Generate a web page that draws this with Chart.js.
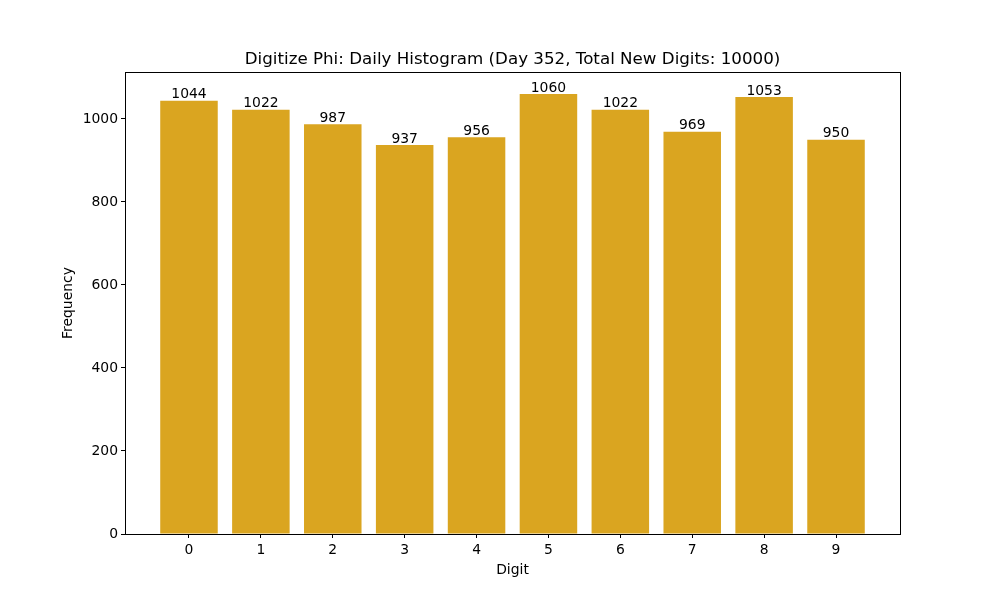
<!DOCTYPE html>
<html>
<head>
<meta charset="utf-8">
<script src="https://cdn.jsdelivr.net/npm/chart.js@4/dist/chart.umd.min.js"></script>
<style>
  html, body { margin: 0; padding: 0; background: #fff; }
  #wrap { width: 1000px; height: 600px; }
</style>
</head>
<body>
<div id="wrap"><canvas id="histChart" width="1000" height="600"></canvas></div>
<script>
const digits = [0, 1, 2, 3, 4, 5, 6, 7, 8, 9];
const counts = [1044, 1022, 987, 937, 956, 1060, 1022, 969, 1053, 950];
const yTicks = [0, 200, 400, 600, 800, 1000];
const chartTitle = 'Digitize Phi: Daily Histogram (Day 352, Total New Digits: 10000)';

const barColor = '#daa520';
const fontFamily = '"DejaVu Sans", sans-serif';

// full box around the plot area, like matplotlib spines, plus the title centred over the axes
const frameBox = {
    id: 'frameBox',
    afterDraw(chart) {
        const a = chart.chartArea;
        const ctx = chart.ctx;
        ctx.save();
        ctx.strokeStyle = '#000';
        ctx.lineWidth = 1;
        ctx.strokeRect(Math.round(a.left) + 0.5, Math.round(a.top) + 0.5,
            Math.round(a.right - a.left), Math.round(a.bottom - a.top));
        ctx.font = '16.7px ' + fontFamily;
        ctx.fillStyle = '#000';
        ctx.textAlign = 'center';
        ctx.textBaseline = 'middle';
        ctx.fillText(chartTitle, (a.left + a.right) / 2, a.top - 12);
        ctx.restore();
    }
};

// count printed above each bar
const barValues = {
    id: 'barValues',
    afterDatasetsDraw(chart) {
        const ctx = chart.ctx;
        const meta = chart.getDatasetMeta(0);
        ctx.save();
        ctx.font = '13.9px ' + fontFamily;
        ctx.fillStyle = '#000';
        ctx.textAlign = 'center';
        ctx.textBaseline = 'bottom';
        meta.data.forEach((bar, i) => {
            ctx.fillText(String(counts[i]), bar.x, bar.y + 1);
        });
        ctx.restore();
    }
};

const ctx = document.getElementById('histChart').getContext('2d');
new Chart(ctx, {
    type: 'bar',
    data: {
        datasets: [{
            data: digits.map((d, i) => ({ x: d, y: counts[i] })),
            backgroundColor: barColor,
            borderColor: barColor,
            borderWidth: 0,
            inflateAmount: 0,
            barPercentage: 0.8,
            categoryPercentage: 1.0
        }]
    },
    options: {
        responsive: false,
        animation: false,
        devicePixelRatio: 1,
        layout: { padding: { left: 56, right: 100, top: 72, bottom: 17 } },
        plugins: {
            legend: { display: false },
            tooltip: { enabled: false },
            title: { display: false }
        },
        scales: {
            x: {
                type: 'linear',
                min: -0.89,
                max: 9.89,
                offset: false,
                grid: { display: true, offset: false, drawOnChartArea: false, drawTicks: true, tickLength: 4, color: '#000' },
                border: { display: true, color: '#000', width: 1 },
                ticks: { stepSize: 1, autoSkip: false, padding: 4, color: '#000', font: { family: fontFamily, size: 13.9 } },
                title: { display: true, text: 'Digit', color: '#000', font: { family: fontFamily, size: 13.9, lineHeight: 1.2 }, padding: { top: 4, bottom: 4 } },
                afterBuildTicks(scale) {
                    scale.ticks = digits.map(d => ({ value: d }));
                },
                afterFit(scale) { scale.height = 49; }
            },
            y: {
                min: 0,
                max: 1113,
                grid: { display: true, offset: false, drawOnChartArea: false, drawTicks: true, tickLength: 4, color: '#000' },
                border: { display: true, color: '#000', width: 1 },
                ticks: { stepSize: 200, autoSkip: false, padding: 3, color: '#000', font: { family: fontFamily, size: 13.9 },
                    callback: v => String(v) },
                title: { display: true, text: 'Frequency', color: '#000', font: { family: fontFamily, size: 13.9, lineHeight: 1.2 }, padding: { top: 4, bottom: 4 } },
                afterBuildTicks(scale) {
                    scale.ticks = yTicks.map(v => ({ value: v }));
                },
                afterFit(scale) { scale.width = 69; }
            }
        }
    },
    plugins: [frameBox, barValues]
});
</script>
</body>
</html>
